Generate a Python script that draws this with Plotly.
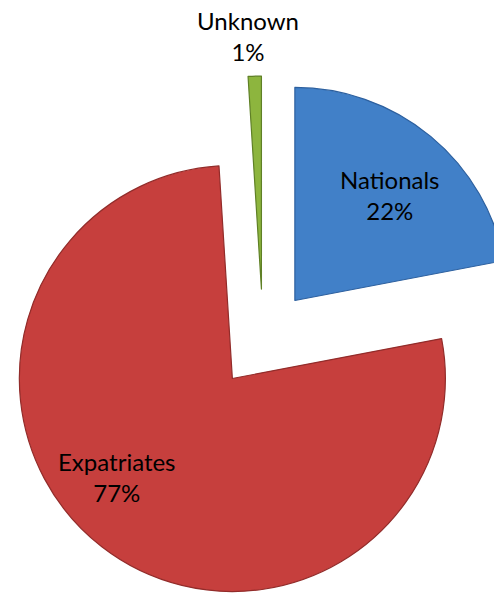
import plotly.graph_objects as go

# Workforce composition
labels = ["Nationals", "Expatriates", "Unknown"]
shares = [22, 77, 1]

# Slice styling
colors = ["#4180C8", "#C63F3D", "#8DB53E"]
edge_colors = ["#2D609F", "#922C2A", "#5F8026"]

# Canvas and pie geometry (pixels)
W, H = 530, 610
cx, cy = 263, 339          # centre of the unexploded pie
reach = 263                # radius * (1 + pull)
pull = 0.2347

# Label anchor points (pixels) for each slice, in the same order as labels
label_px = [(390, 195), (117, 477), (248, 36)]

fig = go.Figure(
    go.Pie(
        labels=labels,
        values=shares,
        sort=False,
        direction="clockwise",
        rotation=0,
        pull=[pull] * len(labels),
        marker=dict(colors=colors, line=dict(color=edge_colors, width=1.2)),
        textinfo="none",
        hoverinfo="label+percent",
        showlegend=False,
        domain=dict(
            x=[(cx - reach) / W, (cx + reach) / W],
            y=[1 - (cy + reach) / H, 1 - (cy - reach) / H],
        ),
    )
)

for name, share, (px, py) in zip(labels, shares, label_px):
    fig.add_annotation(
        x=px / W,
        y=1 - py / H,
        xref="paper",
        yref="paper",
        text=f"{name}<br>{share}%",
        showarrow=False,
        xanchor="center",
        yanchor="middle",
        align="center",
        font=dict(family="Lato, 'Open Sans', sans-serif", size=24, color="#000000"),
    )

fig.update_layout(
    width=W,
    height=H,
    margin=dict(l=0, r=0, t=0, b=0),
    paper_bgcolor="white",
    plot_bgcolor="white",
)

fig.write_html("out.html")
